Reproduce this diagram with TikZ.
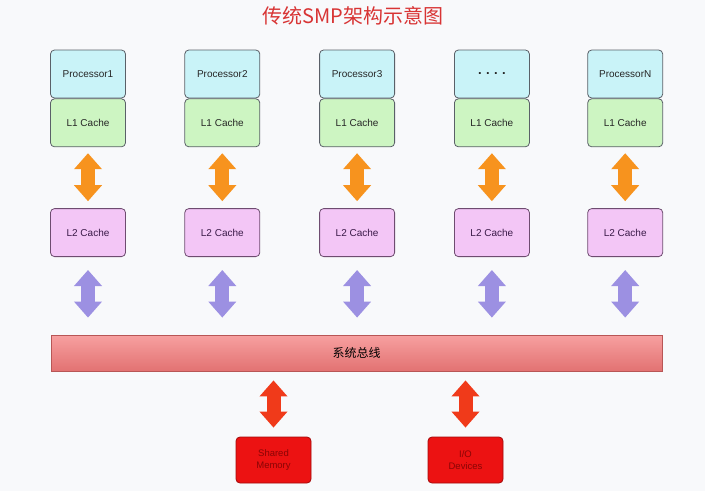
\documentclass[tikz,border=0pt]{standalone}
\usepackage{fontspec}
\setmainfont{Liberation Sans}
\newfontfamily\cjk{Noto Sans CJK SC}
\usetikzlibrary{arrows.meta, positioning}

\definecolor{bgcol}{HTML}{F8F9FB}
\definecolor{boxline}{HTML}{5A6068}
\definecolor{proccyan}{HTML}{C9F3F8}
\definecolor{lonegreen}{HTML}{CDF5C2}
\definecolor{ltwopink}{HTML}{F3C6F6}
\definecolor{ltwoline}{HTML}{6E4C70}
\definecolor{ltwotext}{HTML}{3A1A48}
\definecolor{bustop}{HTML}{F7A0A0}
\definecolor{busbottom}{HTML}{E27272}
\definecolor{busline}{HTML}{B85656}
\definecolor{devred}{HTML}{EC1212}
\definecolor{devline}{HTML}{A30A0A}
\definecolor{devtext}{HTML}{8A0505}
\definecolor{arroworange}{HTML}{F7931E}
\definecolor{arrowpurple}{HTML}{9C90E2}
\definecolor{arrowred}{HTML}{F03A1A}
\definecolor{titlered}{HTML}{D83434}

\begin{document}
\begin{tikzpicture}[
    x=1pt, y=-1pt,
    box/.style={rectangle, draw=boxline, line width=0.8pt, rounded corners=4pt, minimum width=75pt, minimum height=48pt, align=center, font=\fontsize{10}{12}\selectfont},
    proc/.style={box, fill=proccyan, text=black!85},
    lone/.style={box, fill=lonegreen, text=black!85},
    ltwo/.style={box, fill=ltwopink, draw=ltwoline, text=ltwotext},
    bus/.style={rectangle, draw=busline, line width=0.8pt, top color=bustop, bottom color=busbottom, minimum width=611pt, minimum height=36pt, font=\cjk\fontsize{12}{14}\selectfont},
    dev/.style={box, minimum height=46pt, fill=devred, draw=devline, text=devtext, font=\fontsize{9.5}{12}\selectfont},
    fat/.style={line width=14pt, {Triangle[length=16pt, width=27pt]}-{Triangle[length=16pt, width=27pt]}},
    orangearrow/.style={fat, draw=arroworange, shorten <=6pt, shorten >=7pt},
    purplearrow/.style={fat, draw=arrowpurple, shorten <=13pt, shorten >=17pt},
    redarrow/.style={fat, draw=arrowred, shorten <=9pt, shorten >=9pt}
]

% Page and title
\fill[bgcol] (0,0) rectangle (705,491);
\useasboundingbox (0,0) rectangle (705,491);
\node[font=\cjk\fontsize{20}{22}\selectfont, text=titlered] (title) at (353,16) {传统SMP架构示意图};

% Processors
\node[proc] (p1) at (88,74) {Processor1};
\node[proc, right=58.5pt of p1] (p2) {Processor2};
\node[proc, right=59pt of p2] (p3) {Processor3};
\node[proc, right=59pt of p3] (p4) {\bfseries\fontsize{13}{14}\selectfont .\,\,.\,\,.\,\,.};
\node[proc, right=57.5pt of p4] (p5) {ProcessorN};

% L1 caches
\node[lone, below=0pt of p1] (c1) {L1 Cache};
\node[lone, below=0pt of p2] (c2) {L1 Cache};
\node[lone, below=0pt of p3] (c3) {L1 Cache};
\node[lone, below=0pt of p4] (c4) {L1 Cache};
\node[lone, below=0pt of p5] (c5) {L1 Cache};

% L2 caches
\node[ltwo, below=61pt of c1] (d1) {L2 Cache};
\node[ltwo, below=61pt of c2] (d2) {L2 Cache};
\node[ltwo, below=61pt of c3] (d3) {L2 Cache};
\node[ltwo, below=61pt of c4] (d4) {L2 Cache};
\node[ltwo, below=61pt of c5] (d5) {L2 Cache};

% System bus
\node[bus] (bus) at (356.5,353) {系统总线};

% Devices
\node[dev] (mem) at (273.5,460) {Shared\\Memory};
\node[dev] (io) at (465.5,460) {I/O\\Devices};

% L1 <-> L2
\draw[orangearrow] (c1) -- (d1);
\draw[orangearrow] (c2) -- (d2);
\draw[orangearrow] (c3) -- (d3);
\draw[orangearrow] (c4) -- (d4);
\draw[orangearrow] (c5) -- (d5);

% L2 <-> bus
\draw[purplearrow] (d1.south) -- (d1.south |- bus.north);
\draw[purplearrow] (d2.south) -- (d2.south |- bus.north);
\draw[purplearrow] (d3.south) -- (d3.south |- bus.north);
\draw[purplearrow] (d4.south) -- (d4.south |- bus.north);
\draw[purplearrow] (d5.south) -- (d5.south |- bus.north);

% bus <-> devices
\draw[redarrow] (mem.north |- bus.south) -- (mem.north);
\draw[redarrow] (io.north |- bus.south) -- (io.north);

\end{tikzpicture}
\end{document}
